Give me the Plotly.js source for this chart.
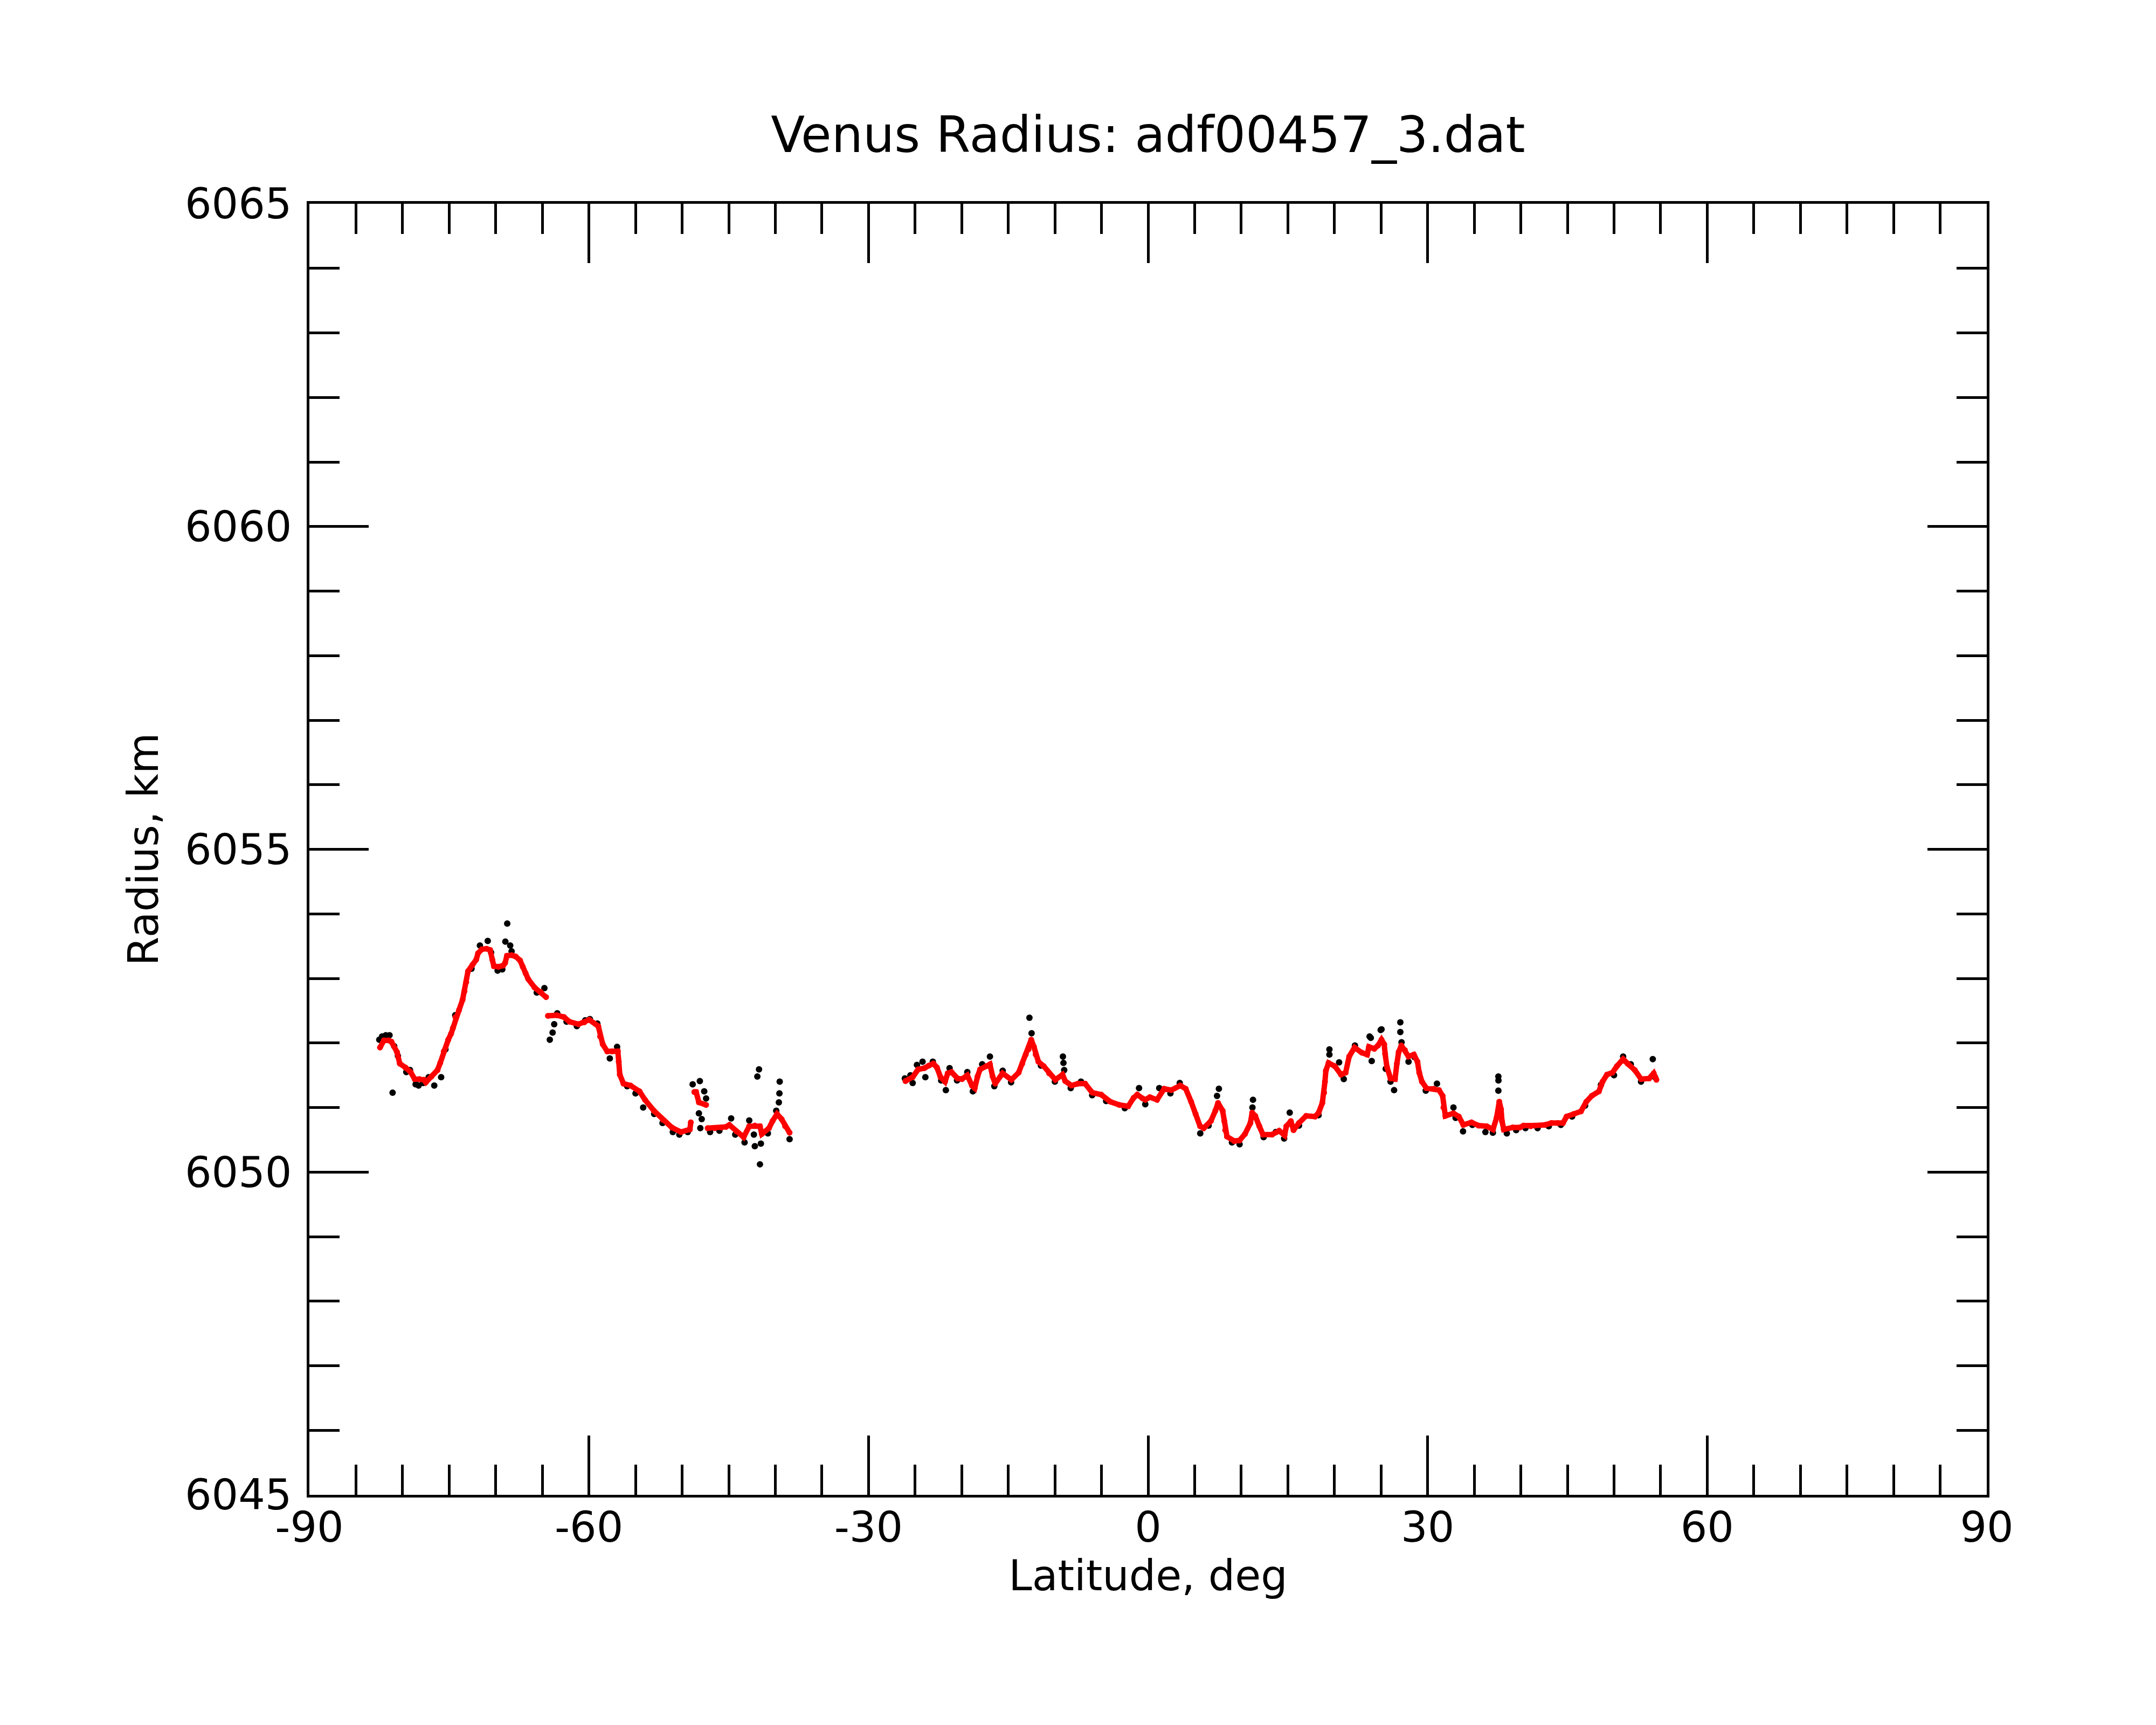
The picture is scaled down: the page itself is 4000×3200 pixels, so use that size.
<!DOCTYPE html>
<html>
<head>
<meta charset="utf-8">
<script src="https://cdn.plot.ly/plotly-3.0.1.min.js"></script>
<style>
  html, body { margin: 0; padding: 0; background: #ffffff; }
  #plot { width: 4000px; height: 3200px; }
</style>
</head>
<body>
<div id="plot"></div>
<script>
'use strict'

// Filtered radius profile (red), latitude in deg, radius in km
// null marks a break in the track
const redLat = [
  -82.42, -82.0, -81.5, -81.2, -80.6, -80.3, -79.7, -79.14, -78.7, -78.2,
  -77.7, -77.5, -76.9, -76.25, -75.96, -75.58, -75.1, -74.8, -74.6, -74.33,
  -73.94, -73.56, -73.36, -73.17, -72.98, -72.5, -72.1, -71.9, -71.5, -71.0,
  -70.6, -70.37, -70.2, -69.7, -69.2, -69.0, -68.8, -68.3, -67.87, -67.4,
  -67.1, -66.8, -66.52, -65.84, -65.17, -64.6, -64.5,
  -64.4, -63.44, -62.67, -62.1, -61.12, -60.5, -59.97, -59.0, -58.8, -58.52,
  -58.04, -57.5, -56.9, -56.8, -56.69, -56.3, -55.53, -54.57, -53.99, -53.03,
  -52.06, -51.1, -50.13, -49.17, -49.07, -48.9,
  -48.69, -48.5, -48.2, -47.43, -47.35,
  -47.26, -46.5, -45.8, -45.3, -44.93, -44.16, -43.4, -42.8, -42.2, -41.65,
  -41.45, -40.68, -40.3, -39.82, -39.33, -38.95, -38.47,
  -32.0,
  -26.03, -25.26, -24.68, -24.0, -23.52, -23.04, -22.66, -22.27, -21.79, -21.5,
  -21.1, -20.45, -19.97, -19.4, -18.9, -18.6, -18.3, -18.03, -17.36, -16.97,
  -16.68, -16.4, -15.62, -14.66, -13.89, -13.5, -13.13, -12.83, -12.54, -12.25,
  -12.06, -11.77, -11.2, -10.62, -9.95, -9.18, -8.89, -8.22, -7.52, -6.76,
  -5.99, -5.03, -4.05, -3.09, -2.13, -1.55, -1.16, -0.58, -0.3, 0.19,
  0.96, 1.73, 2.5, 3.46, 4.04, 4.62, 5.1, 5.58, 5.97, 6.74,
  7.22, 7.51, 8.0, 8.18, 8.28, 8.47, 9.25, 9.82, 10.4, 10.98,
  11.17, 11.5, 11.94, 12.33, 13.3, 14.07, 14.65, 14.84, 15.32, 15.61,
  16.19, 16.96, 17.92, 18.31, 18.7, 18.89, 18.98, 19.08, 19.37, 20.04,
  20.71, 21.2, 21.58, 22.16, 22.93, 23.51, 23.7, 24.28, 24.67, 25.05,
  25.34, 25.44, 25.63, 26.02, 26.5, 26.7, 26.89, 27.18, 27.56, 27.95,
  28.52, 28.91, 29.1, 29.39, 29.87, 30.65, 31.22, 31.61, 31.7, 31.9,
  32.77, 33.35, 33.83, 34.7, 35.47, 36.34, 37.01, 37.4, 37.69, 37.88,
  37.98, 38.17, 39.13, 39.9, 40.29, 41.06, 41.45, 42.6, 43.28, 43.95,
  44.53, 44.91, 45.68, 46.45, 47.03, 47.61, 48.38, 48.77, 49.25, 49.83,
  50.31, 50.98, 51.46, 52.23, 52.91, 53.77, 54.26, 54.55
];
const redRadius = [
  6051.93, 6052.04, 6052.04, 6052.02, 6051.86, 6051.68, 6051.62, 6051.55, 6051.44, 6051.44,
  6051.43, 6051.39, 6051.48, 6051.58, 6051.69, 6051.87, 6052.05, 6052.14, 6052.23, 6052.40,
  6052.51, 6052.67, 6052.80, 6052.94, 6053.11, 6053.21, 6053.29, 6053.39, 6053.45, 6053.46,
  6053.44, 6053.29, 6053.19, 6053.18, 6053.20, 6053.24, 6053.35, 6053.36, 6053.34, 6053.28,
  6053.18, 6053.08, 6052.99, 6052.86, 6052.79, 6052.71, null,
  6052.42, 6052.43, 6052.40, 6052.33, 6052.29, 6052.32, 6052.36, 6052.26, 6052.10, 6051.98,
  6051.87, 6051.87, 6051.87, 6051.71, 6051.51, 6051.37, 6051.34, 6051.25, 6051.12, 6050.95,
  6050.81, 6050.69, 6050.62, 6050.66, 6050.77, null,
  6051.24, 6051.24, 6051.08, 6051.04, null,
  6050.68, 6050.68, 6050.69, 6050.70, 6050.73, 6050.63, 6050.54, 6050.71, 6050.72, 6050.71,
  6050.59, 6050.68, 6050.79, 6050.90, 6050.82, 6050.71, 6050.61,
  null,
  6051.41, 6051.47, 6051.59, 6051.61, 6051.65, 6051.68, 6051.62, 6051.47, 6051.40, 6051.53,
  6051.55, 6051.45, 6051.44, 6051.50, 6051.34, 6051.30, 6051.48, 6051.59, 6051.64, 6051.67,
  6051.48, 6051.37, 6051.53, 6051.43, 6051.54, 6051.68, 6051.82, 6051.90, 6052.05, 6051.94,
  6051.82, 6051.71, 6051.64, 6051.53, 6051.43, 6051.51, 6051.41, 6051.34, 6051.37, 6051.37,
  6051.23, 6051.20, 6051.09, 6051.04, 6051.02, 6051.15, 6051.20, 6051.14, 6051.12, 6051.16,
  6051.12, 6051.29, 6051.27, 6051.34, 6051.29, 6051.09, 6050.90, 6050.71, 6050.68, 6050.79,
  6050.95, 6051.07, 6050.95, 6050.79, 6050.65, 6050.55, 6050.48, 6050.49, 6050.59, 6050.76,
  6050.92, 6050.87, 6050.71, 6050.58, 6050.58, 6050.64, 6050.57, 6050.71, 6050.79, 6050.65,
  6050.76, 6050.87, 6050.86, 6050.92, 6051.07, 6051.23, 6051.40, 6051.57, 6051.69, 6051.64,
  6051.51, 6051.54, 6051.79, 6051.93, 6051.85, 6051.82, 6051.94, 6051.91, 6051.96, 6052.05,
  6051.98, 6051.83, 6051.63, 6051.45, 6051.44, 6051.68, 6051.86, 6051.96, 6051.89, 6051.79,
  6051.82, 6051.71, 6051.54, 6051.40, 6051.30, 6051.29, 6051.27, 6051.18, 6051.00, 6050.87,
  6050.91, 6050.86, 6050.73, 6050.77, 6050.72, 6050.71, 6050.66, 6050.84, 6051.09, 6050.97,
  6050.79, 6050.66, 6050.69, 6050.69, 6050.72, 6050.71, 6050.72, 6050.73, 6050.76, 6050.76,
  6050.76, 6050.86, 6050.90, 6050.94, 6051.09, 6051.18, 6051.25, 6051.40, 6051.51, 6051.54,
  6051.64, 6051.75, 6051.68, 6051.58, 6051.44, 6051.45, 6051.53, 6051.43
];

// Raw radius samples (black)
const rawLat = [
  -82.5, -82.2, -81.8, -81.4, -81.07, -80.9, -80.5, -79.6, -79.2, -78.6,
  -78.28, -77.8, -77.2, -76.6, -75.86, -75.4, -74.35, -72.6, -71.7, -70.86,
  -70.5, -69.8, -69.3, -68.97, -68.77, -68.45, -68.3, -65.6, -64.78, -64.2,
  -63.9, -63.73, -63.4, -62.4, -61.3, -60.4, -59.9, -59.1, -57.76, -56.98,
  -55.9, -55.0, -54.18, -53.0, -52.1, -51.0, -50.3, -49.4, -48.87, -48.1,
  -47.63, -47.43, -48.2, -47.9, -48.05, -47.0, -46.0, -44.74, -44.3, -43.3,
  -42.8, -42.3, -42.2, -41.93, -41.75, -41.65, -41.55, -40.8, -39.9, -39.62,
  -39.56, -39.53, -38.47,
  -26.1, -25.5, -25.26, -24.8, -24.2, -23.9, -23.1, -22.2, -21.7, -21.3,
  -20.5, -19.4, -18.8, -17.8, -16.97, -16.5, -15.6, -14.7, -12.73, -12.5,
  -11.5, -10.0, -9.14, -9.08, -9.0, -8.3, -7.2, -6.0, -4.5, -2.5,
  -0.97, -0.3, 1.2, 2.4, 3.4, 5.6, 6.5, 7.6, 7.4, 9.0,
  9.82, 11.26, 11.2, 12.4, 13.7, 14.6, 15.2, 16.2, 18.3, 19.46,
  19.46, 20.5, 21.0, 22.2, 23.77, 23.9, 24.0, 24.96, 25.05, 25.5,
  26.02, 26.4, 27.07, 27.07, 27.2, 27.95, 28.6, 29.8, 31.0, 32.77,
  33.0, 33.8, 34.8, 36.2, 37.0, 37.59, 37.6, 37.59, 38.5, 39.5,
  40.5, 41.8, 43.0, 44.3, 45.5, 46.9, 48.6, 50.0, 50.98, 51.8,
  52.9, 54.16, 54.4
];
const rawRadius = [
  6052.05, 6052.10, 6052.12, 6052.12, 6051.23, 6051.95, 6051.80, 6051.55, 6051.58, 6051.36,
  6051.34, 6051.38, 6051.47, 6051.34, 6051.47, 6051.90, 6052.43, 6053.15, 6053.51, 6053.58,
  6053.40, 6053.12, 6053.14, 6053.57, 6053.85, 6053.51, 6053.42, 6052.78, 6052.85, 6052.05,
  6052.16, 6052.29, 6052.46, 6052.33, 6052.26, 6052.35, 6052.37, 6052.30, 6051.76, 6051.94,
  6051.33, 6051.22, 6051.00, 6050.90, 6050.76, 6050.62, 6050.58, 6050.62, 6051.36, 6051.41,
  6051.25, 6051.14, 6050.91, 6050.82, 6050.68, 6050.62, 6050.64, 6050.83, 6050.58, 6050.46,
  6050.80, 6050.58, 6050.40, 6051.48, 6051.59, 6050.12, 6050.44, 6050.60, 6050.95, 6051.08,
  6051.22, 6051.40, 6050.51,
  6051.45, 6051.50, 6051.38, 6051.66, 6051.71, 6051.47, 6051.71, 6051.42, 6051.27, 6051.61,
  6051.42, 6051.55, 6051.25, 6051.67, 6051.79, 6051.33, 6051.57, 6051.39, 6052.39, 6052.15,
  6051.65, 6051.40, 6051.79, 6051.69, 6051.58, 6051.30, 6051.40, 6051.19, 6051.10, 6050.99,
  6051.30, 6051.05, 6051.30, 6051.22, 6051.38, 6050.60, 6050.72, 6051.29, 6051.18, 6050.46,
  6050.43, 6051.12, 6051.00, 6050.54, 6050.62, 6050.52, 6050.92, 6050.72, 6050.88, 6051.90,
  6051.82, 6051.70, 6051.44, 6051.96, 6052.10, 6052.08, 6051.72, 6052.20, 6052.21, 6051.60,
  6051.40, 6051.27, 6052.32, 6052.17, 6052.01, 6051.71, 6051.78, 6051.26, 6051.37, 6051.00,
  6050.84, 6050.63, 6050.73, 6050.62, 6050.61, 6051.48, 6051.42, 6051.26, 6050.60, 6050.65,
  6050.68, 6050.68, 6050.71, 6050.73, 6050.86, 6051.03, 6051.35, 6051.50, 6051.79, 6051.67,
  6051.40, 6051.75, 6051.47
];

// Axis ticks
const xTickVals = [-90, -60, -30, 0, 30, 60, 90];
const xTickText = ['-90', '-60', '-30', '0', '30', '60', '90'];
const yTickVals = [6045, 6050, 6055, 6060, 6065];
const yTickText = ['6045', '6050', '6055', '6060', '6065'];

const fontFamily = 'DejaVu Sans, sans-serif';

let rawTrace = {
  x: rawLat,
  y: rawRadius,
  mode: 'markers',
  type: 'scatter',
  marker: { color: '#000000', size: 12 },
  hoverinfo: 'skip'
};

let redTrace = {
  x: redLat,
  y: redRadius,
  mode: 'lines+markers',
  type: 'scatter',
  connectgaps: false,
  line: { color: '#ff0000', width: 10 },
  marker: { color: '#ff0000', size: 11 },
  hoverinfo: 'skip'
};

const axisCommon = {
  showline: true,
  linecolor: '#000000',
  linewidth: 5,
  mirror: 'allticks',
  ticks: 'inside',
  ticklen: 110,
  tickwidth: 5,
  tickcolor: '#000000',
  showgrid: false,
  zeroline: false,
  tickfont: { family: fontFamily, size: 78, color: '#000000' }
};

const layout = {
  width: 4000,
  height: 3200,
  margin: { l: 574, r: 314, t: 378, b: 427, autoexpand: false },
  paper_bgcolor: '#ffffff',
  plot_bgcolor: '#ffffff',
  showlegend: false,
  font: { family: fontFamily, color: '#000000' },
  title: {
    text: 'Venus Radius: adf00457_3.dat',
    font: { family: fontFamily, size: 92, color: '#000000' },
    xref: 'paper',
    x: 0.5,
    yref: 'container',
    y: 0.922,
    yanchor: 'middle'
  },
  xaxis: Object.assign({}, axisCommon, {
    range: [-90, 90],
    tickmode: 'array',
    tickvals: xTickVals,
    ticktext: xTickText,
    ticklabelstandoff: -12,
    minor: { dtick: 5, ticks: 'inside', ticklen: 56, tickwidth: 5, tickcolor: '#000000', showgrid: false },
    title: { text: 'Latitude, deg', font: { family: fontFamily, size: 78, color: '#000000' }, standoff: 0 }
  }),
  yaxis: Object.assign({}, axisCommon, {
    range: [6045, 6065],
    tickmode: 'array',
    tickvals: yTickVals,
    ticktext: yTickText,
    ticklabelstandoff: 12,
    minor: { dtick: 1, ticks: 'inside', ticklen: 56, tickwidth: 5, tickcolor: '#000000', showgrid: false },
    title: { text: 'Radius, km', font: { family: fontFamily, size: 78, color: '#000000' }, standoff: 25 }
  })
};

const config = { displayModeBar: false, staticPlot: true };

Plotly.newPlot('plot', [rawTrace, redTrace], layout, config);
</script>
</body>
</html>
